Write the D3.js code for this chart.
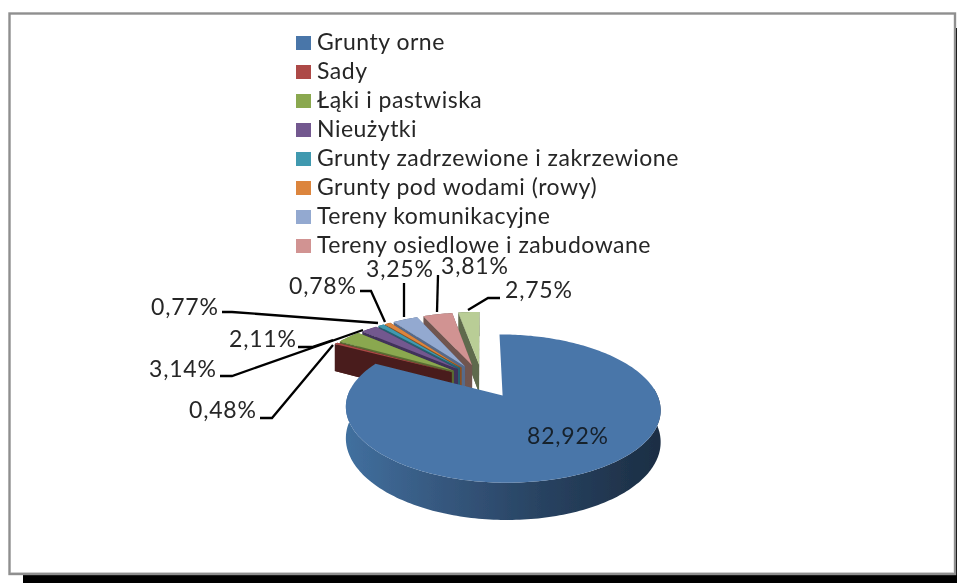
<!DOCTYPE html>
<html><head><meta charset="utf-8">
<style>html,body{margin:0;padding:0;background:#fff}svg{display:block}text{font-family:Lato,"Open Sans",sans-serif;fill:#262626;font-size:23px}</style>
<script src="https://cdnjs.cloudflare.com/ajax/libs/d3/7.8.5/d3.min.js"></script>
</head><body><svg id="c" width="957" height="583"></svg>
<script>
const categories = ["Grunty orne","Sady","Łąki i pastwiska","Nieużytki","Grunty zadrzewione i zakrzewione","Grunty pod wodami (rowy)","Tereny komunikacyjne","Tereny osiedlowe i zabudowane","Pozostałe"];
const values = [82.92,0.48,3.14,2.11,0.77,0.78,3.25,3.81,2.75];
const valueLabels = ["82,92%","0,48%","3,14%","2,11%","0,77%","0,78%","3,25%","3,81%","2,75%"];
const topColors = ["#4a76a9","#ad4a47","#8aa84f","#73588f","#4199af","#dc853d","#93a9d0","#d19392","#b9cd96"];
const wallColors = ["#2f5078","#4a1f1c","#5a6b33","#40305a","#25606f","#8a5020","#566a8a","#6f5450","#5f6b4d"];
const legendCount = 8;

const svg = d3.select("#c");
const defs = svg.append("defs");
const blur = defs.append("filter").attr("id","soft").attr("x","-5%").attr("y","-5%").attr("width","110%").attr("height","110%");
blur.append("feGaussianBlur").attr("stdDeviation",0.55);
const g = defs.append("linearGradient").attr("id","wall").attr("gradientUnits","userSpaceOnUse").attr("x1",345).attr("x2",659).attr("y1",0).attr("y2",0);
[[0,"#41709f"],[0.3,"#36587f"],[0.65,"#27415f"],[1,"#1c2e44"]].forEach(s=>g.append("stop").attr("offset",s[0]).attr("stop-color",s[1]));

// frame
svg.append("rect").attr("x",23).attr("y",28).attr("width",934).attr("height",555).attr("fill","#000");
svg.append("rect").attr("x",9.5).attr("y",13.5).attr("width",945.5).attr("height",560.5).attr("fill","#fff").attr("stroke","#8f8f8f").attr("stroke-width",2.4);
svg.append("path").attr("d","M11 572.5H954").attr("stroke","#cfcfcf").attr("stroke-width",1).attr("fill","none");

const root = svg.append("g").attr("filter","url(#soft)");

// projection of the pie plane
const cx=482, cy=380, A=149, B=66.5, k=0.17, depth=29.5;
const explodeOf=i=>i===0?0.26:0.24;
const proj=(X,Y,d=0)=>{const s=1/(1+k*Y);return [cx+A*X*s, cy-B*Y*s+d*s];};
const arcs=d3.pie().sort(null).value(d=>d)(values);
const line=d3.line();
const slices=arcs.map((a,i)=>{
  const b=(a.startAngle+a.endAngle)/2, e=explodeOf(i), ox=e*Math.sin(b), oy=e*Math.cos(b);
  const n=Math.max(2,Math.ceil((a.endAngle-a.startAngle)/0.02));
  const angles=d3.range(n+1).map(j=>a.startAngle+(a.endAngle-a.startAngle)*j/n);
  const plane=angles.map(t=>[ox+Math.sin(t),oy+Math.cos(t)]);
  return {i,ox,oy,plane,angles};
});
function drawSlice(s){
  const P=s.plane, O=[s.ox,s.oy];
  const poly=[O,...P];
  if(s.i!==0){
    root.append("path").attr("d",line([...poly.map(p=>proj(p[0],p[1])),...poly.slice().reverse().map(p=>proj(p[0],p[1],depth))])+"Z").attr("fill",wallColors[s.i]);
    [P[0],P[P.length-1]].forEach(q=>{
      root.append("path").attr("d",line([proj(O[0],O[1]),proj(q[0],q[1]),proj(q[0],q[1],depth),proj(O[0],O[1],depth)])+"Z").attr("fill",wallColors[s.i]);
    });
  } else {
    const front=P.filter((p,j)=>s.angles[j]>Math.PI/2-0.1&&s.angles[j]<Math.PI*1.5+0.1);
    root.append("path").attr("d",line([...front.map(p=>proj(p[0],p[1])),...front.slice().reverse().map(p=>proj(p[0],p[1],depth))])+"Z").attr("fill","url(#wall)");
  }
  root.append("path").attr("d",line(poly.map(p=>proj(p[0],p[1])))+"Z").attr("fill",topColors[s.i]);
}
slices.slice(1).reverse().forEach(drawSlice);
drawSlice(slices[0]);

// leader lines, one per small slice
const leaderPaths=[null,
 [[260,418],[272,418],[333,345]],
 [[220,376],[232,376],[363,330]],
 [[298,347],[312,347],[333,340]],
 [[222,312],[232,312],[378,323]],
 [[360,291],[371,291],[385,322]],
 [[404,283],[404,317]],
 [[438,275],[437,312]],
 [[500,298],[488,298],[468,310]]];
leaderPaths.forEach(p=>{ if(p) root.append("path").attr("d",line(p)).attr("fill","none").attr("stroke","#000").attr("stroke-width",2.3); });
const labelPos=[[527,444],[189,418],[149,377],[229,347],[151,315],[289,294],[366,277],[441,274],[505,298]];
valueLabels.forEach((t,i)=>{ root.append("text").attr("x",labelPos[i][0]).attr("y",labelPos[i][1]).attr("letter-spacing",0.8).style("fill",i===0?"#16202c":null).text(t); });

// legend
const legendY=d3.scalePoint().domain(categories.slice(0,legendCount)).range([43,246]);
categories.slice(0,legendCount).forEach((c,i)=>{
  root.append("rect").attr("x",296).attr("y",legendY(c)-7).attr("width",15).attr("height",14).attr("fill",topColors[i]);
  root.append("text").attr("x",317).attr("y",legendY(c)+7).attr("letter-spacing",0.5).text(c);
});
</script></body></html>
